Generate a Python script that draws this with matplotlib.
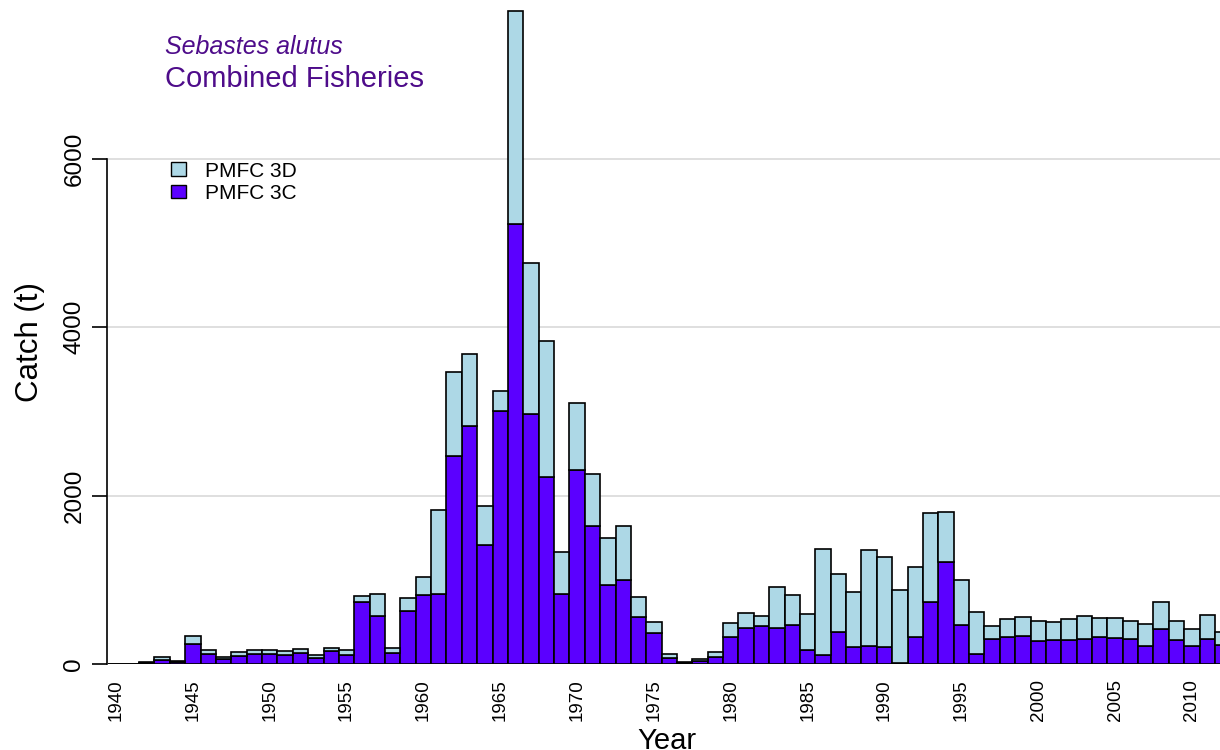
import matplotlib
matplotlib.use("Agg")
import matplotlib.pyplot as plt
from matplotlib.patches import Patch

plt.rcParams["font.family"] = ["Liberation Sans", "DejaVu Sans"]

years = list(range(1940, 2013))

# catch (t) by PMFC area
pmfc_3c = [
    0, 0, 15, 50, 25, 241, 119, 55, 95, 119,
    119, 110, 126, 75, 158, 110, 742, 565, 125, 630,
    818, 835, 2467, 2823, 1411, 3000, 5230, 2965, 2218, 830,
    2301, 1637, 937, 996, 557, 368, 71, 15, 40, 87,
    320, 430, 446, 422, 458, 161, 110, 383, 205, 213,
    205, 12, 316, 739, 1210, 466, 114, 292, 316, 328,
    273, 280, 285, 300, 316, 312, 296, 217, 419, 285,
    209, 292, 225,
]
pmfc_3d = [
    0, 0, 10, 30, 15, 86, 51, 23, 43, 51,
    51, 48, 48, 27, 32, 56, 64, 272, 60, 155,
    217, 991, 996, 854, 463, 238, 2527, 1803, 1613, 498,
    794, 616, 557, 641, 238, 130, 48, 10, 15, 55,
    161, 178, 123, 498, 360, 436, 1254, 688, 649, 1143,
    1071, 869, 838, 1052, 593, 537, 498, 162, 221, 225,
    232, 213, 252, 265, 225, 229, 214, 253, 323, 220,
    201, 289, 150,
]

xtick_years = list(range(1940, 2011, 5))
ytick_vals = [0, 2000, 4000, 6000]

col_3c = "#5B00FF"
col_3d = "#ADD8E6"
col_title = "#4E0C8A"

fig = plt.figure(figsize=(12.2, 7.5), dpi=100)
ax = fig.add_axes([107 / 1220, 86 / 750, 1 - 107 / 1220, 664 / 750])

for y in ytick_vals[1:]:
    ax.axhline(y, color="#D9D9D9", lw=1.2, zorder=0)

ax.bar(years, pmfc_3c, width=1.0, color=col_3c, edgecolor="black", lw=1.2, zorder=2)
ax.bar(years, pmfc_3d, width=1.0, bottom=pmfc_3c, color=col_3d,
       edgecolor="black", lw=1.2, zorder=2)

ax.set_xlim(1939.41, 2011.83)
ax.set_ylim(0, 7886)

for side in ["top", "right", "bottom"]:
    ax.spines[side].set_visible(False)
ax.spines["left"].set_bounds(0, 6000)
ax.spines["left"].set_linewidth(1.2)

ax.set_yticks(ytick_vals)
ax.set_yticklabels([str(v) for v in ytick_vals], rotation=90, va="center")
ax.tick_params(axis="y", length=11, width=1.2, pad=4.5, labelsize=17.5)
ax.set_xticks(xtick_years)
ax.set_xticklabels([str(v) for v in xtick_years], rotation=90)
ax.tick_params(axis="x", length=0, pad=11, labelsize=13.5)

fig.text(30 / 1220, 1 - 341.5 / 750, "Catch (t)", rotation=90,
         ha="center", va="center", fontsize=22.5)
fig.text(667 / 1220, 1 / 750, "Year", ha="center", va="baseline", fontsize=21)

fig.text(165 / 1220, 1 - 54 / 750, "Sebastes alutus", style="italic",
         color=col_title, fontsize=18, va="baseline")
fig.text(165 / 1220, 1 - 87 / 750, "Combined Fisheries",
         color=col_title, fontsize=21, va="baseline")

handles = [
    Patch(facecolor=col_3d, edgecolor="black", lw=1.0, label="PMFC 3D"),
    Patch(facecolor=col_3c, edgecolor="black", lw=1.0, label="PMFC 3C"),
]
ax.legend(handles=handles, loc="upper left", bbox_to_anchor=(154 / 1220, 1 - 145 / 750),
          bbox_transform=fig.transFigure, frameon=False, fontsize=15,
          handlelength=0.75, handleheight=0.65, handletextpad=0.9, labelspacing=0.15,
          borderpad=0.3)

fig.savefig("out.png", dpi=100)
